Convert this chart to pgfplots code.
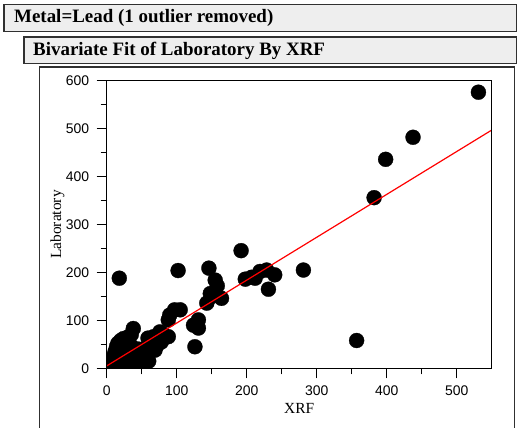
\documentclass[border=0pt]{standalone}
\usepackage{pgfplots}
\pgfplotsset{compat=1.18}
\usepackage{fontspec}
\setmainfont{Liberation Serif}
\newfontfamily\arial{Liberation Sans}
\definecolor{hdr}{HTML}{EEEEEE}
\definecolor{frm}{HTML}{303030}
\begin{document}
\begin{tikzpicture}
\begin{scope}[x=1bp,y=-1bp]
\path[use as bounding box] (0,0) rectangle (520,427);
\draw[line width=1.6bp, draw=frm, fill=hdr] (4,4.5) rectangle (516.5,31.5);
\node[anchor=base west, font=\bfseries\fontsize{19}{19}\selectfont, inner sep=0] at (14,22.7) {Metal=Lead (1 outlier removed)};
\draw[line width=1.6bp, draw=frm, fill=hdr] (24,37) rectangle (516.5,63.5);
\node[anchor=base west, font=\bfseries\fontsize{19}{19}\selectfont, inner sep=0] at (33,55) {Bivariate Fit of Laboratory By XRF};
\draw[line width=1.6bp, draw=frm] (39.3,430) -- (39.3,67) -- (514.3,67) -- (514.3,430);
\end{scope}
\begin{axis}[
  at={(106.7bp,-368.3bp)}, anchor=south west,
  scale only axis, width=385bp, height=287.6bp,
  xmin=0, xmax=550, ymin=0, ymax=600,
  xtick={0,100,...,500}, ytick={0,100,...,600},
  minor x tick num=1, minor y tick num=1,
  tick align=outside, xtick pos=left, ytick pos=left,
  major tick length=10bp, minor tick length=6bp,
  axis line style={line width=1.2bp, black},
  every tick/.style={line width=1bp, black},
  ticklabel style={font=\arial\fontsize{14}{14}\selectfont},
  xticklabel style={yshift=-4bp},
  yticklabel style={xshift=-4bp},
  /pgf/number format/assume math mode=true,
  xlabel={XRF}, ylabel={Laboratory},
  xlabel style={at={(axis description cs:0.5,-0.1565)}, anchor=base, font=\fontsize{15.5}{15.5}\selectfont, inner sep=0},
  ylabel style={at={(axis description cs:-0.1187,0.5)}, anchor=base, font=\fontsize{15.5}{15.5}\selectfont, inner sep=0},
  clip marker paths=true,
  axis on top=true,
]
\addplot[only marks, mark=*, mark size=7.5bp, mark options={fill=black, draw=black, line width=0.3bp}] coordinates {
(531,576) (437.6,482) (398.5,436) (382,356) (281,205) (357,58)
(192,245.5) (198,186) (207,190) (219,202) (228.5,205) (240,195) (231,165) (212,188)
(146,209) (102,204) (18,188)
(155,184) (158,172) (148,156) (164,146) (143,136) (150,150)
(105,122) (97,122) (90,111) (88,101) (131,101) (124,90) (131,84) (126,45)
(76,76) (80,72) (67,66) (59,63) (88,66) (62,42) (69,38) (72,48) (78,55)
(38,83) (35,70)
(2,3) (5,8) (8,15) (10,25) (12,35) (14,45) (16,52) (20,58) (24,62) (28,55)
(22,40) (18,25) (25,20) (30,12) (35,8) (40,18) (45,28) (50,15) (52,8) (42,5)
(32,40) (36,45) (28,30) (15,5) (8,2) (46,40) (30,65) (55,30) (20,10) (48,22)
(55,10) (60,15)
};
\addplot[red, line width=1.2bp] coordinates {(0,5) (550,497)};
\end{axis}
\end{tikzpicture}
\end{document}
